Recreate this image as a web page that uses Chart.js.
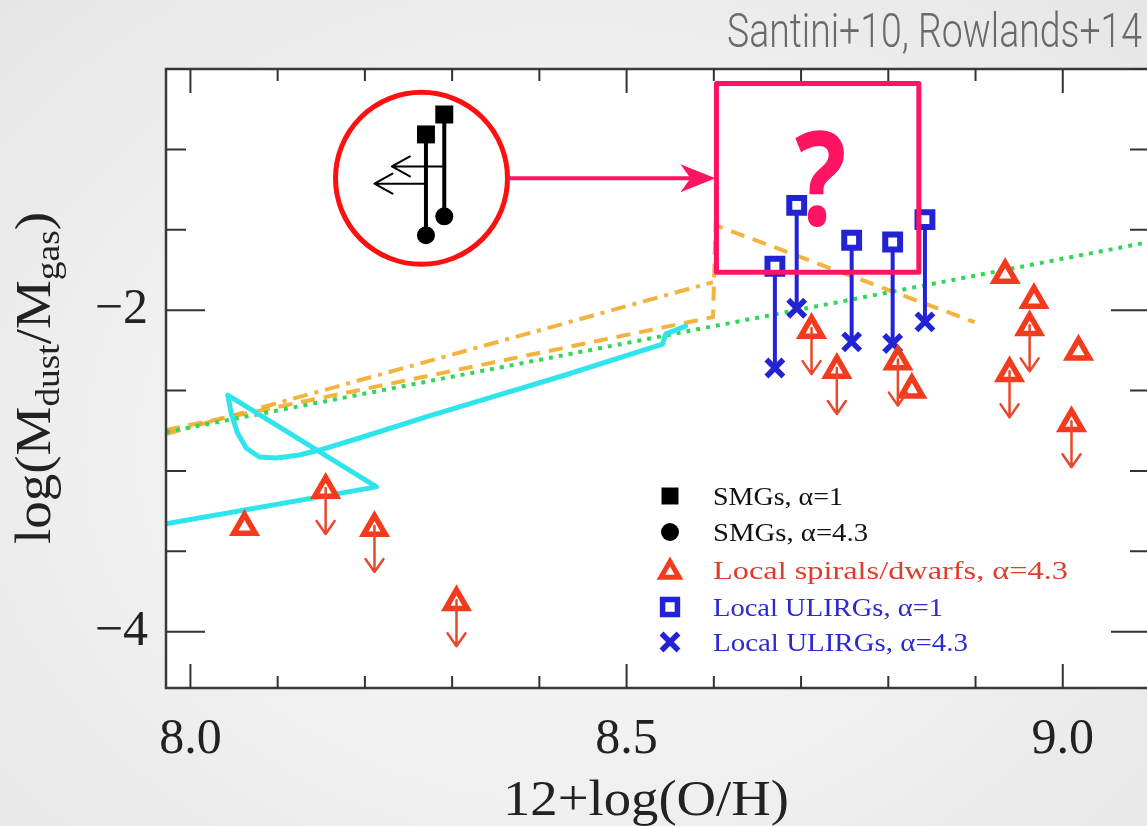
<!DOCTYPE html>
<html><head><meta charset="utf-8">
<script src="https://cdn.jsdelivr.net/npm/chart.js@4.4.0/dist/chart.umd.min.js"></script>
<style>
html,body{margin:0;padding:0;width:1147px;height:826px;overflow:hidden;background:#eeeeee;}
#wrap{position:absolute;left:0;top:0;width:1147px;height:826px;overflow:hidden;
 background: radial-gradient(ellipse at 50% 55%, #f8f8f8 0%, #f0f0f0 55%, #e6e6e6 100%);}
canvas{position:absolute;left:0;top:0;}
</style></head><body><div id="wrap"><canvas id="c" width="1152" height="826"></canvas></div>
<script>
// ---------- data ----------
const xMajorTicks = [8.0, 8.5, 9.0];
const xTickLabels = ['8.0', '8.5', '9.0'];
const yMajorTicks = [-4, -2];
const yTickLabels = ['\u22124', '\u22122'];
const xTitle = '12+log(O/H)';
const yTitleParts = [['log(M', 0], ['dust', 1], ['/M', 0], ['gas', 1], [')', 0]];
const sourceNote = 'Santini+10, Rowlands+14';

// SMGs (schematic inset)
const smgZ = [8.270, 8.291];
const smgAlpha1 = [-0.907, -0.783];
const smgAlpha43 = [-1.534, -1.416];
const smgLimitRatio = [-1.213, -1.106];
const smgLimitZ = [8.211, 8.231];

// Local ULIRGs
const ulirgZ = [8.670, 8.695, 8.758, 8.805, 8.842];
const ulirgAlpha1 = [-1.727, -1.348, -1.565, -1.576, -1.437];
const ulirgAlpha43 = [-2.360, -1.988, -2.197, -2.207, -2.073];

// Local spirals / dwarfs (alpha = 4.3)
const spiralZ = [8.062, 8.155, 8.211, 8.305, 8.712, 8.741, 8.811, 8.827, 8.934, 8.967, 8.962, 8.939, 9.018, 9.010];
const spiralRatio = [-3.349, -3.118, -3.355, -3.817, -2.124, -2.372, -2.320, -2.495, -1.782, -1.937, -2.107, -2.393, -2.258, -2.703];
const spiralUpper = [false, true, true, true, true, true, true, false, false, false, true, true, false, true];

// model curves
const greenZ = [7.972, 9.1];
const greenRatio = [-2.758, -1.575];
const orangeDashZ = [7.972, 8.599, 8.602, 8.899];
const orangeDashRatio = [-2.745, -2.043, -1.472, -2.075];
const orangeDotDashZ = [7.972, 8.599];
const orangeDotDashRatio = [-2.770, -1.826];
const cyanZ = [7.972, 8.2133, 8.0428, 8.0467, 8.0539, 8.0639, 8.0791, 8.0983, 8.125, 8.1479, 8.1938, 8.2703, 8.3463, 8.4232, 8.5413, 8.5447, 8.5677];
const cyanRatio = [-3.329, -3.099, -2.528, -2.640, -2.764, -2.857, -2.913, -2.919, -2.901, -2.870, -2.795, -2.663, -2.539, -2.414, -2.211, -2.149, -2.099];

const legendLabels = ['SMGs, \u03b1=1', 'SMGs, \u03b1=4.3', 'Local spirals/dwarfs, \u03b1=4.3', 'Local ULIRGs, \u03b1=1', 'Local ULIRGs, \u03b1=4.3'];

// annotation anchors (data coordinates)
const noteCircle = {z: 8.2649, r: -1.180};
const noteBox = {z0: 8.603, z1: 8.835, r0: -1.764, r1: -0.590};

// ---------- styles ----------
const BLUE = '#2323d6', RED = '#f23a1c', REDLINE = '#e8482c', PINK = '#ff1462';
const pairs = (xs, ys) => xs.map((x, i) => ({x, y: ys[i]}));
const connectors = (xs, a, b) => {
  const out = [];
  xs.forEach((x, i) => { out.push({x, y: a[i]}, {x, y: b[i]}, {x, y: null}); });
  return out;
};

const datasets = [
  {label: 'green', data: pairs(greenZ, greenRatio), showLine: true, pointRadius: 0, borderColor: '#2fd856', borderWidth: 4, borderDash: [4, 6], order: 20},
  {label: 'orange dashed', data: pairs(orangeDashZ, orangeDashRatio), showLine: true, pointRadius: 0, borderColor: 'rgba(240,168,36,0.88)', borderWidth: 4, borderDash: [14, 9], order: 21},
  {label: 'orange dotdash', data: pairs(orangeDotDashZ, orangeDotDashRatio), showLine: true, pointRadius: 0, borderColor: 'rgba(240,168,36,0.88)', borderWidth: 4, borderDash: [15, 7, 4, 7], order: 22},
  {label: 'cyan', data: pairs(cyanZ, cyanRatio), showLine: true, pointRadius: 0, borderColor: '#2fe4ea', borderWidth: 5, borderJoinStyle: 'round', borderCapStyle: 'round', order: 19},
  {label: 'ulirg link', data: connectors(ulirgZ, ulirgAlpha1, ulirgAlpha43), showLine: true, spanGaps: false, pointRadius: 0, borderColor: BLUE, borderWidth: 4, order: 10},
  {label: 'smg link', data: connectors(smgZ, smgAlpha1, smgAlpha43), showLine: true, spanGaps: false, pointRadius: 0, borderColor: '#000', borderWidth: 4, order: 10},
  {label: 'Local ULIRGs a=1', data: pairs(ulirgZ, ulirgAlpha1), pointStyle: 'rect', pointRadius: 10.5, borderWidth: 6, borderColor: BLUE, backgroundColor: '#fff', order: 3},
  {label: 'Local ULIRGs a=4.3', data: pairs(ulirgZ, ulirgAlpha43), pointStyle: 'crossRot', pointRadius: 12, borderWidth: 5.5, borderColor: BLUE, order: 3},
  {label: 'Local spirals', data: pairs(spiralZ, spiralRatio), pointStyle: 'triangle', pointRadius: 12.5, borderWidth: 5.5, borderColor: RED, backgroundColor: '#fff', order: 2},
  {label: 'SMGs a=1', data: pairs(smgZ, smgAlpha1), pointStyle: 'rect', pointRadius: 12.7, borderWidth: 0, backgroundColor: '#000', order: 1},
  {label: 'SMGs a=4.3', data: pairs(smgZ, smgAlpha43), pointStyle: 'circle', pointRadius: 9, borderWidth: 0, backgroundColor: '#000', order: 1}
];

function fitText(ctx, text, font, left, right, baseline) {
  ctx.save();
  ctx.font = font;
  const w = ctx.measureText(text).width;
  ctx.translate(left, baseline);
  ctx.scale((right - left) / w, 1);
  ctx.textAlign = 'left'; ctx.textBaseline = 'alphabetic';
  ctx.fillText(text, 0, 0);
  ctx.restore();
}

const overlay = {
  id: 'overlay',
  beforeDraw(chart) {
    const {ctx, chartArea: a} = chart;
    ctx.save(); ctx.fillStyle = '#fff';
    ctx.fillRect(a.left, a.top, a.right - a.left, a.bottom - a.top);
    ctx.restore();
  },
  afterDatasetsDraw(chart) {
    const {ctx} = chart, X = chart.scales.x, Y = chart.scales.y;
    ctx.save();
    ctx.strokeStyle = REDLINE; ctx.lineWidth = 2.5; ctx.lineCap = 'round'; ctx.lineJoin = 'round';
    spiralZ.forEach((z, i) => {
      if (!spiralUpper[i]) return;
      const x = X.getPixelForValue(z), y = Y.getPixelForValue(spiralRatio[i]);
      ctx.beginPath();
      ctx.moveTo(x, y - 2); ctx.lineTo(x, y + 44);
      ctx.moveTo(x - 9, y + 31); ctx.lineTo(x, y + 44); ctx.lineTo(x + 9, y + 31);
      ctx.stroke();
    });
    ctx.strokeStyle = '#000'; ctx.lineWidth = 2;
    smgZ.forEach((z, i) => {
      const x0 = X.getPixelForValue(z), x1 = X.getPixelForValue(smgLimitZ[i]), y = Y.getPixelForValue(smgLimitRatio[i]);
      ctx.beginPath();
      ctx.moveTo(x0, y); ctx.lineTo(x1, y);
      ctx.moveTo(x1 + 18, y - 10); ctx.lineTo(x1, y); ctx.lineTo(x1 + 18, y + 10);
      ctx.stroke();
    });
    ctx.restore();
  },
  afterDraw(chart) {
    const {ctx, chartArea: a} = chart, X = chart.scales.x, Y = chart.scales.y;
    ctx.save();
    ctx.strokeStyle = '#3a3a3a'; ctx.lineWidth = 2.5;
    ctx.strokeRect(a.left, a.top, a.right - a.left, a.bottom - a.top);
    ctx.lineWidth = 2; ctx.strokeStyle = '#333';
    ctx.beginPath();
    for (let k = 0; k <= 10; k++) {
      const v = 8.0 + k * 0.1;
      const major = xMajorTicks.some(m => Math.abs(m - v) < 1e-6);
      const L = major ? 24 : 12, x = X.getPixelForValue(v);
      ctx.moveTo(x, a.bottom); ctx.lineTo(x, a.bottom - L);
      ctx.moveTo(x, a.top); ctx.lineTo(x, a.top + L);
    }
    for (let k = 0; k <= 7; k++) {
      const v = -4 + k * 0.5;
      const major = yMajorTicks.some(m => Math.abs(m - v) < 1e-6);
      const L = major ? 39 : 20, y = Y.getPixelForValue(v);
      ctx.moveTo(a.left, y); ctx.lineTo(a.left + L, y);
      ctx.moveTo(a.right, y); ctx.lineTo(a.right - L, y);
    }
    ctx.stroke();

    // legend
    const rows = [496, 532, 570, 607, 642];
    const widthsT = [130, 155, 355, 230, 255];
    const sx = 670, tx = 713;
    const colors = ['#111', '#111', '#e03c2a', '#2a2ad0', '#2a2ad0'];
    const H = Chart.helpers;
    ctx.fillStyle = '#000';
    H.drawPoint(ctx, {pointStyle: 'rect', radius: 12, borderWidth: 0, rotation: 0}, sx, rows[0]);
    H.drawPoint(ctx, {pointStyle: 'circle', radius: 9, borderWidth: 0, rotation: 0}, sx, rows[1]);
    ctx.fillStyle = '#fff'; ctx.strokeStyle = RED; ctx.lineWidth = 5;
    H.drawPoint(ctx, {pointStyle: 'triangle', radius: 10.5, borderWidth: 5, rotation: 0}, sx, rows[2] + 2);
    ctx.strokeStyle = BLUE; ctx.lineWidth = 5.5;
    H.drawPoint(ctx, {pointStyle: 'rect', radius: 10.5, borderWidth: 5.5, rotation: 0}, sx, rows[3]);
    H.drawPoint(ctx, {pointStyle: 'crossRot', radius: 12, borderWidth: 5.5, rotation: 0}, sx, rows[4]);
    legendLabels.forEach((t, i) => {
      ctx.fillStyle = colors[i];
      fitText(ctx, t, '26px "Liberation Serif"', tx, tx + widthsT[i], rows[i] + 9);
    });

    // y title with subscripts
    ctx.save();
    ctx.fillStyle = '#222';
    const big = '50px "Liberation Serif"', small = '34px "Liberation Serif"';
    let total = 0;
    const widths = yTitleParts.map(([t, s]) => { ctx.font = s ? small : big; const w = ctx.measureText(t).width; total += w; return w; });
    const target = 332, cy = 378;
    ctx.translate(50, cy);
    ctx.rotate(-Math.PI / 2);
    ctx.scale(target / total, 1);
    let pos = -total / 2;
    ctx.textAlign = 'left'; ctx.textBaseline = 'alphabetic';
    yTitleParts.forEach(([t, s], i) => {
      ctx.font = s ? small : big;
      ctx.fillText(t, pos, s ? 9 : 0);
      pos += widths[i];
    });
    ctx.restore();

    ctx.fillStyle = '#222';
    fitText(ctx, xTitle, '50px "Liberation Serif"', 503, 789, 815);

    ctx.fillStyle = '#6a6a6a';
    fitText(ctx, sourceNote, '300 48px Roboto', 727, 1142, 47);

    // annotations
    const cx = X.getPixelForValue(noteCircle.z), ccy = Y.getPixelForValue(noteCircle.r), R = 86;
    ctx.strokeStyle = '#ff1010'; ctx.lineWidth = 5;
    ctx.beginPath(); ctx.arc(cx, ccy, R, 0, Math.PI * 2); ctx.stroke();
    const bx0 = X.getPixelForValue(noteBox.z0), bx1 = X.getPixelForValue(noteBox.z1);
    const by0 = Y.getPixelForValue(noteBox.r1), by1 = Y.getPixelForValue(noteBox.r0);
    ctx.strokeStyle = PINK; ctx.lineWidth = 5; ctx.lineJoin = 'round';
    ctx.strokeRect(bx0, by0, bx1 - bx0, by1 - by0);
    ctx.lineWidth = 4;
    ctx.beginPath(); ctx.moveTo(cx + R, ccy); ctx.lineTo(bx0 - 25, ccy); ctx.stroke();
    ctx.fillStyle = PINK;
    ctx.beginPath();
    ctx.moveTo(bx0 - 1, ccy); ctx.lineTo(bx0 - 36, ccy - 14); ctx.lineTo(bx0 - 26, ccy);
    ctx.lineTo(bx0 - 36, ccy + 14); ctx.closePath(); ctx.fill();
    ctx.save();
    ctx.font = 'bold 130px "Open Sans"';
    const m = ctx.measureText('?');
    const gw = m.actualBoundingBoxLeft + m.actualBoundingBoxRight;
    const gh = m.actualBoundingBoxAscent + m.actualBoundingBoxDescent;
    const qx0 = 795, qx1 = 844, qy0 = 130, qy1 = 227;
    ctx.translate(qx0, qy0);
    ctx.scale((qx1 - qx0) / gw, (qy1 - qy0) / gh);
    ctx.textAlign = 'left'; ctx.textBaseline = 'alphabetic';
    ctx.fillText('?', m.actualBoundingBoxLeft, m.actualBoundingBoxAscent);
    ctx.restore();

    ctx.restore();
  }
};

const chart = new Chart(document.getElementById('c').getContext('2d'), {
  type: 'scatter',
  data: {datasets},
  options: {
    responsive: false, animation: false, devicePixelRatio: 1,
    layout: {autoPadding: false, padding: {left: 0, top: 69, right: 2, bottom: 0}},
    plugins: {legend: {display: false}, tooltip: {enabled: false}},
    scales: {
      x: {
        type: 'linear', min: 7.972, max: 9.1,
        grid: {display: false, drawTicks: false}, border: {display: false},
        afterBuildTicks: s => { s.ticks = xMajorTicks.map(v => ({value: v})); },
        afterFit: s => { s.height = 138; s.paddingLeft = 0; s.paddingRight = 0; },
        ticks: {autoSkip: false, maxRotation: 0, padding: 22, color: '#222',
          font: {family: 'Liberation Serif', size: 50},
          callback: v => xTickLabels[xMajorTicks.indexOf(v)] ?? ''}
      },
      y: {
        type: 'linear', min: -4.35, max: -0.5,
        grid: {display: false, drawTicks: false}, border: {display: false},
        afterBuildTicks: s => { s.ticks = yMajorTicks.map(v => ({value: v})); },
        afterFit: s => { s.width = 166; s.paddingTop = 0; s.paddingBottom = 0; },
        ticks: {autoSkip: false, padding: 18, color: '#222',
          font: {family: 'Liberation Serif', size: 50},
          callback: v => yTickLabels[yMajorTicks.indexOf(v)] ?? ''}
      }
    }
  },
  plugins: [overlay]
});
</script></body></html>
